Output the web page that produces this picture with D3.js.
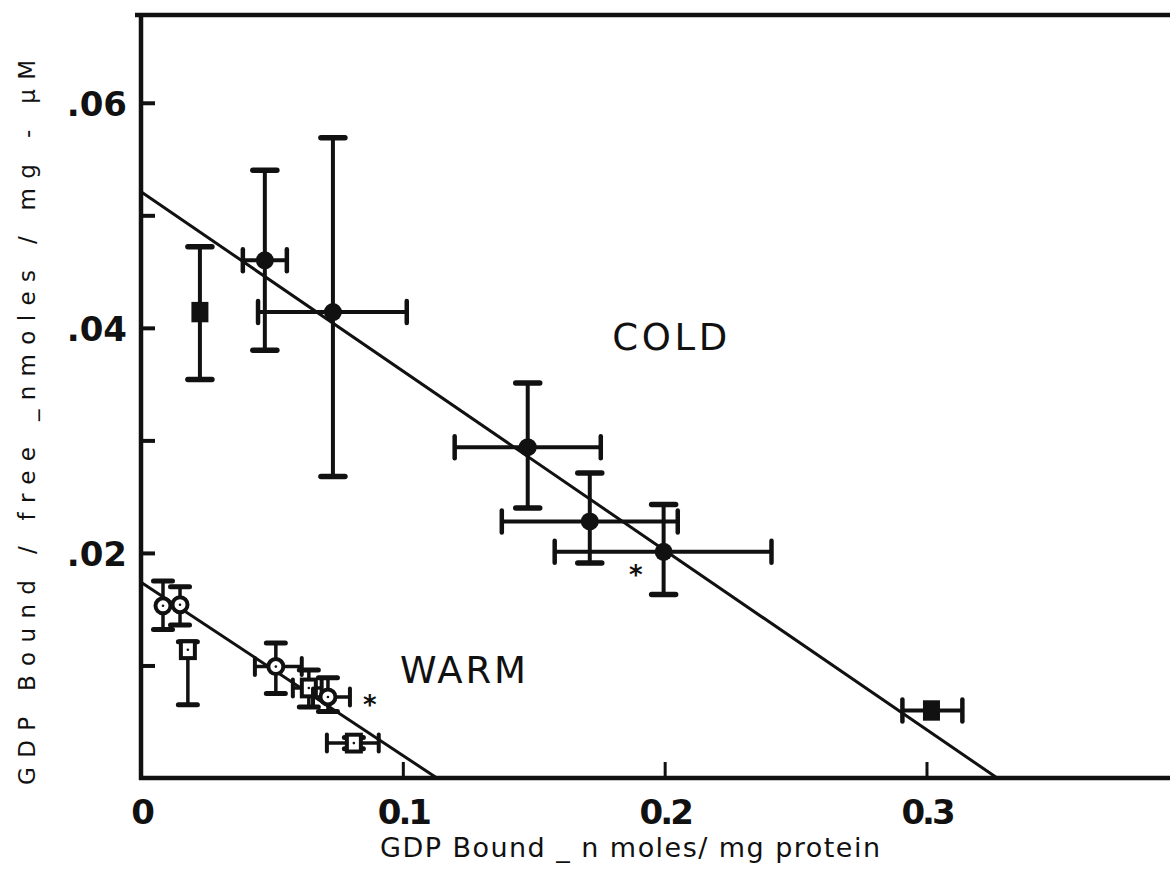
<!DOCTYPE html>
<html>
<head>
<meta charset="utf-8">
<script src="https://cdn.jsdelivr.net/npm/d3@7"></script>
<style>
  body { margin: 0; background: #fff; }
  svg { display: block; }
  text { fill: #111; }
</style>
</head>
<body>
<div id="chart"></div>
<script>
// GDP binding, Scatchard-style plot (cold vs warm)
var coldX    = [0.0225, 0.0473, 0.0733, 0.1477, 0.1714, 0.1996, 0.3019];
var coldY    = [0.0414, 0.0460, 0.0414, 0.0294, 0.0228, 0.0201, 0.0060];
var coldYLo  = [0.0354, 0.0380, 0.0268, 0.0240, 0.0191, 0.0163, null];
var coldYHi  = [0.0472, 0.0540, 0.0569, 0.0351, 0.0271, 0.0243, null];
var coldXLo  = [null, 0.0389, 0.0447, 0.1198, 0.1378, 0.1580, 0.2908];
var coldXHi  = [null, 0.0557, 0.1015, 0.1756, 0.2050, 0.2408, 0.3137];
var coldShape = ["square", "circle", "circle", "circle", "circle", "circle", "square"];

var warmX    = [0.0084, 0.0149, 0.0179, 0.0515, 0.0641, 0.0714, 0.0813];
var warmY    = [0.0153, 0.0154, 0.0114, 0.0099, 0.0080, 0.0072, 0.0031];
var warmYLo  = [0.0132, 0.0136, 0.0065, 0.0075, 0.0063, 0.0059, 0.0026];
var warmYHi  = [0.0175, 0.0170, 0.0121, 0.0120, 0.0096, 0.0089, 0.0036];
var warmXLo  = [null, null, null, 0.0435, 0.0580, 0.0657, 0.0710];
var warmXHi  = [null, null, null, 0.0614, 0.0690, 0.0798, 0.0908];
var warmShape = ["circle", "circle", "square", "circle", "square", "circle", "square"];

// fitted lines: y-intercept and x-intercept
var fitNames = ["COLD", "WARM"];
var fitYIntercept = [0.0521, 0.0174];
var fitXIntercept = [0.327, 0.113];

// asterisks marked on the plot
var starX = [0.189, 0.0874];
var starY = [0.0185, 0.0069];

var xTicks = [0, 0.1, 0.2, 0.3];
var xTickLabels = ["0", "0.1", "0.2", "0.3"];
var yTicks = [0.01, 0.02, 0.03, 0.04, 0.05, 0.06];
var yTickLabels = {0.02: ".02", 0.04: ".04", 0.06: ".06"};

var width = 1170, height = 881;
var plotLeft = 141, plotTop = 15, plotBottom = 778;

var x = d3.scaleLinear().domain([0, 0.393]).range([plotLeft, width]);
var y = d3.scaleLinear().domain([0, 0.0678]).range([plotBottom, plotTop]);

var svg = d3.select("#chart").append("svg")
    .attr("width", width)
    .attr("height", height);

// frame: left axis, bottom axis, top border
svg.append("line").attr("x1", plotLeft).attr("x2", plotLeft).attr("y1", plotTop - 2).attr("y2", plotBottom + 2)
    .attr("stroke", "#111").attr("stroke-width", 4.5);
svg.append("line").attr("x1", plotLeft - 2).attr("x2", width).attr("y1", plotBottom).attr("y2", plotBottom)
    .attr("stroke", "#111").attr("stroke-width", 4.5);
svg.append("line").attr("x1", plotLeft - 6).attr("x2", width).attr("y1", plotTop).attr("y2", plotTop)
    .attr("stroke", "#111").attr("stroke-width", 4.5);

// axes (inward ticks)
var yAxis = d3.axisLeft(y)
    .tickValues(yTicks)
    .tickSize(-14)
    .tickPadding(14)
    .tickFormat(function(d){ return yTickLabels[d] || ""; });
var gy = svg.append("g").attr("transform", "translate(" + plotLeft + ",0)").call(yAxis);
gy.select(".domain").remove();
gy.selectAll(".tick line").attr("stroke", "#111").attr("stroke-width", 4);
gy.selectAll(".tick text")
    .attr("font-family", "DejaVu Sans").attr("font-weight", "bold")
    .attr("font-size", 34).attr("fill", "#111").attr("dy", "0.36em");

var xAxis = d3.axisBottom(x)
    .tickValues(xTicks)
    .tickSize(-16)
    .tickPadding(22)
    .tickFormat(function(d, i){ return xTickLabels[i]; });
var gx = svg.append("g").attr("transform", "translate(0," + plotBottom + ")").call(xAxis);
gx.select(".domain").remove();
gx.selectAll(".tick line").attr("stroke", "#111").attr("stroke-width", 3)
    .attr("opacity", function(d){ return d === 0 ? 0 : 1; });
gx.selectAll(".tick text")
    .attr("font-family", "DejaVu Sans").attr("font-weight", "bold")
    .attr("font-size", 34).attr("fill", "#111").attr("letter-spacing", -3);

// axis titles
svg.append("text")
    .attr("x", 380).attr("y", 857)
    .attr("font-family", "DejaVu Sans").attr("font-size", 27)
    .attr("textLength", 500).attr("lengthAdjust", "spacing")
    .text("GDP Bound _ n moles/ mg protein");

svg.append("text")
    .attr("transform", "translate(35,785) rotate(-90)")
    .attr("font-family", "DejaVu Sans").attr("font-size", 23)
    .attr("textLength", 725).attr("lengthAdjust", "spacing")
    .text("GDP Bound / free _nmoles / mg - \u03bcM");

// fitted lines
fitNames.forEach(function(name, i){
  svg.append("line")
      .attr("x1", x(0)).attr("y1", y(fitYIntercept[i]))
      .attr("x2", x(fitXIntercept[i])).attr("y2", y(0))
      .attr("stroke", "#111").attr("stroke-width", 3);
});

function drawSeries(xs, ys, yLo, yHi, xLo, xHi, shapes, opt) {
  var g = svg.append("g").attr("class", "series " + opt.name);
  xs.forEach(function(xv, i){
    var cx = x(xv), cy = y(ys[i]);
    if (yLo[i] != null) {
      g.append("line").attr("x1", cx).attr("x2", cx)
          .attr("y1", y(yLo[i])).attr("y2", y(yHi[i]))
          .attr("stroke", "#111").attr("stroke-width", opt.bar);
      [yLo[i], yHi[i]].forEach(function(v){
        g.append("line").attr("x1", cx - opt.cap / 2).attr("x2", cx + opt.cap / 2)
            .attr("y1", y(v)).attr("y2", y(v))
            .attr("stroke", "#111").attr("stroke-width", opt.capW).attr("stroke-linecap", "round");
      });
    }
    if (xLo[i] != null) {
      g.append("line").attr("y1", cy).attr("y2", cy)
          .attr("x1", x(xLo[i])).attr("x2", x(xHi[i]))
          .attr("stroke", "#111").attr("stroke-width", opt.bar);
      [xLo[i], xHi[i]].forEach(function(v){
        g.append("line").attr("y1", cy - opt.cap / 2 + 1).attr("y2", cy + opt.cap / 2 - 1)
            .attr("x1", x(v)).attr("x2", x(v))
            .attr("stroke", "#111").attr("stroke-width", opt.capW - 1).attr("stroke-linecap", "round");
      });
    }
    if (shapes[i] === "circle") {
      g.append("circle").attr("cx", cx).attr("cy", cy).attr("r", opt.r)
          .attr("fill", opt.fill).attr("stroke", "#111").attr("stroke-width", opt.filled ? 0 : 4);
      if (!opt.filled) g.append("circle").attr("cx", cx).attr("cy", cy).attr("r", 1.3).attr("fill", "#111");
    } else {
      g.append("rect").attr("x", cx - opt.sq / 2).attr("y", cy - opt.sq * 0.6)
          .attr("width", opt.sq).attr("height", opt.sq * 1.2)
          .attr("fill", opt.fill).attr("stroke", "#111").attr("stroke-width", opt.filled ? 0 : 4);
      if (!opt.filled) g.append("circle").attr("cx", cx).attr("cy", cy).attr("r", 1.3).attr("fill", "#111");
    }
  });
}

drawSeries(coldX, coldY, coldYLo, coldYHi, coldXLo, coldXHi, coldShape,
  {name: "cold", bar: 4, cap: 24, capW: 5.5, r: 9, sq: 17, fill: "#111", filled: true});
drawSeries(warmX, warmY, warmYLo, warmYHi, warmXLo, warmXHi, warmShape,
  {name: "warm", bar: 3.5, cap: 19, capW: 5, r: 7.5, sq: 14, fill: "#fff", filled: false});

// asterisks
starX.forEach(function(sx, i){
  svg.append("text").attr("x", x(sx)).attr("y", y(starY[i]) + 14)
      .attr("text-anchor", "middle")
      .attr("font-family", "DejaVu Sans").attr("font-weight", "bold").attr("font-size", 26)
      .text("*");
});

// series labels
svg.append("text").attr("x", x(0.18)).attr("y", y(0.038))
    .attr("font-family", "DejaVu Sans").attr("font-size", 37)
    .attr("textLength", 115).attr("lengthAdjust", "spacing")
    .text("COLD");
svg.append("text").attr("x", x(0.0989)).attr("y", y(0.00844))
    .attr("font-family", "DejaVu Sans").attr("font-size", 37)
    .attr("textLength", 126).attr("lengthAdjust", "spacing")
    .text("WARM");
</script>
</body>
</html>
